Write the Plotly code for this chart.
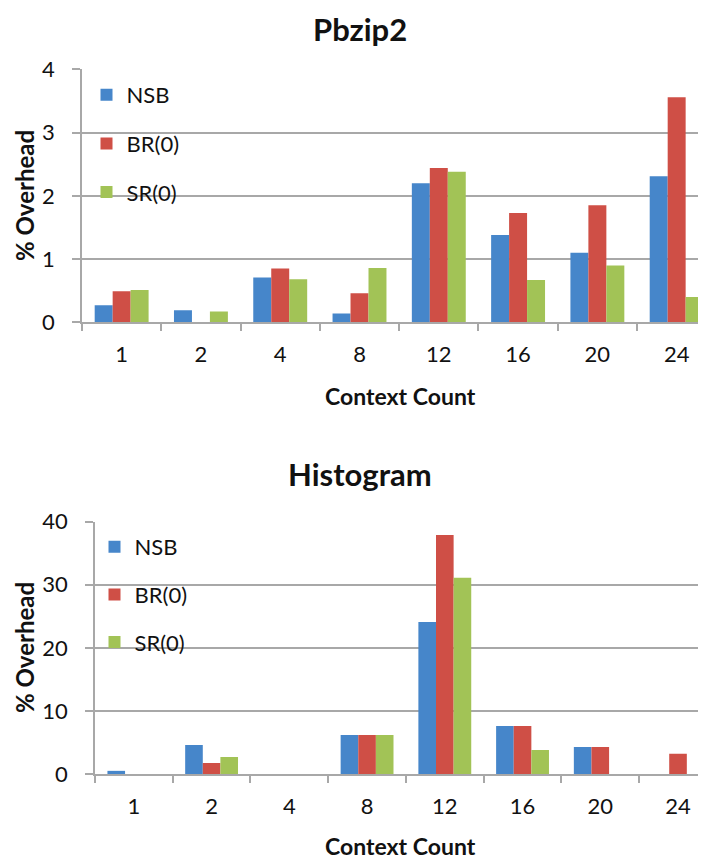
import plotly.graph_objects as go

categories = ["1", "2", "4", "8", "12", "16", "20", "24"]
series_names = ["NSB", "BR(0)", "SR(0)"]

pbzip2_nsb = [0.27, 0.19, 0.71, 0.14, 2.20, 1.38, 1.10, 2.31]
pbzip2_br = [0.49, -0.02, 0.85, 0.46, 2.44, 1.73, 1.85, 3.56]
pbzip2_sr = [0.51, 0.17, 0.68, 0.86, 2.38, 0.67, 0.90, 0.40]

hist_nsb = [0.5, 4.6, 0.0, 6.2, 24.1, 7.6, 4.3, 0.0]
hist_br = [0.0, 1.75, 0.0, 6.2, 37.9, 7.6, 4.3, 3.2]
hist_sr = [0.0, 2.7, 0.0, 6.2, 31.1, 3.8, 0.0, 0.0]

titles = ["Pbzip2", "Histogram"]
y_title = "% Overhead"
x_title = "Context Count"

colors = ["#4686ca", "#cf4f46", "#a2c356"]
FONT = "Lato"
# page body has an 8px margin; the figure fills the rest of the 706x859 window
W, H = 698, 851
OFF = 8

fig = go.Figure()

top_vals = [pbzip2_nsb, pbzip2_br, pbzip2_sr]
bot_vals = [hist_nsb, hist_br, hist_sr]

for i, name in enumerate(series_names):
    fig.add_trace(go.Bar(
        x=categories, y=top_vals[i], name=name,
        marker=dict(color=colors[i], line=dict(width=0)),
        xaxis="x", yaxis="y", legend="legend", legendgroup="t%d" % i,
    ))
for i, name in enumerate(series_names):
    fig.add_trace(go.Bar(
        x=categories, y=bot_vals[i], name=name,
        marker=dict(color=colors[i], line=dict(width=0)),
        xaxis="x2", yaxis="y2", legend="legend2", legendgroup="b%d" % i,
    ))

def py(px):
    # px: window pixel (reference) -> paper fraction
    return 1 - (px - OFF) / H

def pxx(px):
    return (px - OFF) / W

grid = "#a8a8a8"
axis_common = dict(
    showline=True, linecolor=grid, linewidth=1.5,
    ticks="outside", tickcolor=grid, tickwidth=1.5,
    tickfont=dict(family=FONT, size=22, color="#111"),
    automargin=False,
)

fig.update_layout(
    width=W, height=H,
    margin=dict(l=0, r=0, t=0, b=0),
    paper_bgcolor="white", plot_bgcolor="white",
    barmode="group", bargap=0.32, bargroupgap=0.0,
    font=dict(family=FONT, color="#111"),
    xaxis=dict(domain=[pxx(82), 1], anchor="y", type="category",
               range=[-0.5, 7.37], tickson="boundaries", ticklen=7,
               showgrid=False, ticklabelstandoff=12, **axis_common),
    yaxis=dict(domain=[py(322.3), py(69.3)], anchor="x", range=[0, 4], dtick=1,
               showgrid=True, gridcolor=grid, gridwidth=1.5, ticklen=8,
               zeroline=False, ticklabelstandoff=13, **axis_common),
    xaxis2=dict(domain=[pxx(95), 1], anchor="y2", type="category",
                range=[-0.5, 7.36], tickson="boundaries", ticklen=7,
                showgrid=False, ticklabelstandoff=12, **axis_common),
    yaxis2=dict(domain=[py(774), py(521.7)], anchor="x2", range=[0, 40], dtick=10,
                showgrid=True, gridcolor=grid, gridwidth=1.5, ticklen=8,
                zeroline=False, ticklabelstandoff=13, **axis_common),
    legend=dict(x=pxx(86.5), y=py(74), xanchor="left", yanchor="top",
                bgcolor="rgba(0,0,0,0)", font=dict(family=FONT, size=22, color="#111"),
                tracegroupgap=17, traceorder="grouped"),
    legend2=dict(x=pxx(94.5), y=py(526), xanchor="left", yanchor="top",
                 bgcolor="rgba(0,0,0,0)", font=dict(family=FONT, size=22, color="#111"),
                 tracegroupgap=16, traceorder="grouped"),
    showlegend=True,
)

annos = []
annos.append(dict(text="<b>%s</b>" % titles[0], x=pxx(360), y=1, xref="paper", yref="paper",
                  showarrow=False, xanchor="center", yanchor="top",
                  font=dict(family=FONT, size=31, color="#111")))
annos.append(dict(text="<b>%s</b>" % titles[1], x=pxx(360), y=py(474), xref="paper", yref="paper",
                  showarrow=False, xanchor="center", yanchor="middle",
                  font=dict(family=FONT, size=31, color="#111")))
for yc in [196, 648]:
    annos.append(dict(text="<b>%s</b>" % y_title, x=pxx(24), y=py(yc), xref="paper", yref="paper",
                      showarrow=False, xanchor="center", yanchor="middle", textangle=-90,
                      font=dict(family=FONT, size=24, color="#111")))
for yc in [396, 846]:
    annos.append(dict(text="<b>%s</b>" % x_title, x=pxx(400), y=py(yc), xref="paper", yref="paper",
                      showarrow=False, xanchor="center", yanchor="middle",
                      font=dict(family=FONT, size=23, color="#111")))
fig.update_layout(annotations=annos)

fig.write_html("out.html")
